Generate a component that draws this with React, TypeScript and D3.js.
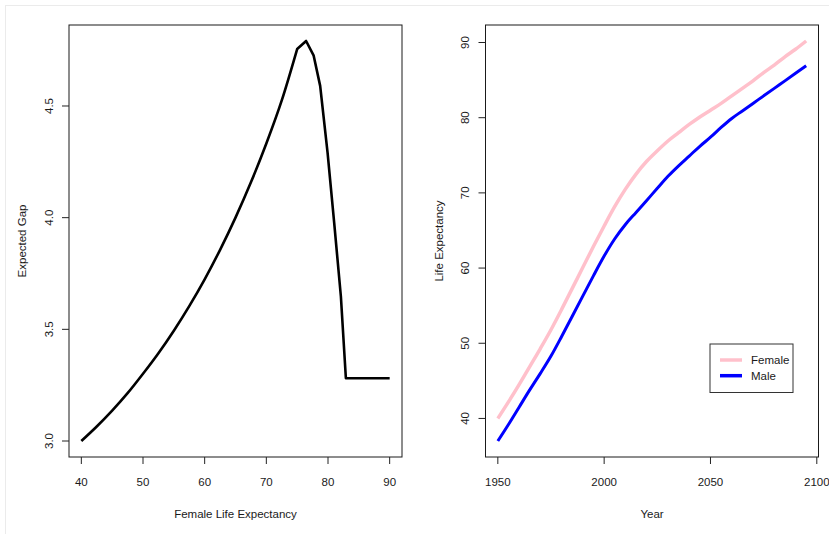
import React from "react";
import * as d3 from "d3";

// left panel: expected gap vs female life expectancy
const gapLE = [40, 42.5, 45, 47.5, 50, 52.5, 55, 57.5, 60, 62.5, 65, 67.5, 70, 72.5, 75, 76.45, 77.66, 78.73, 79.93, 81, 82.09, 82.9, 90];
const gapValue = [3.0, 3.065, 3.136, 3.214, 3.301, 3.393, 3.494, 3.604, 3.724, 3.856, 4.0, 4.158, 4.332, 4.525, 4.755, 4.791, 4.727, 4.59, 4.291, 3.978, 3.647, 3.281, 3.281];
const gapXTicks = [40, 50, 60, 70, 80, 90];
const gapYTicks = [3.0, 3.5, 4.0, 4.5];

// right panel: life expectancy by year
const years = [1950, 1955, 1960, 1965, 1970, 1975, 1980, 1985, 1990, 1995, 2000, 2005, 2010, 2015, 2020, 2025, 2030, 2035, 2040, 2045, 2050, 2055, 2060, 2065, 2070, 2075, 2080, 2085, 2090, 2095];
const female = [40.0, 42.2, 44.5, 46.9, 49.3, 51.8, 54.5, 57.3, 60.1, 62.9, 65.6, 68.2, 70.5, 72.5, 74.2, 75.6, 76.9, 78.0, 79.1, 80.1, 81.0, 81.9, 82.9, 83.9, 84.9, 86.0, 87.0, 88.1, 89.1, 90.2];
const male = [37.0, 39.2, 41.5, 43.8, 46.0, 48.3, 50.9, 53.6, 56.3, 59.0, 61.6, 63.9, 65.8, 67.4, 69.0, 70.6, 72.2, 73.6, 74.9, 76.2, 77.4, 78.7, 79.9, 80.9, 81.9, 82.9, 83.9, 84.9, 85.9, 86.9];
const yearTicks = [1950, 2000, 2050, 2100];
const leTicks = [40, 50, 60, 70, 80, 90];
const legendLabels = ["Female", "Male"];
const legendColors = ["#ffc0cb", "#0000ff"];

const W = 829;
const H = 534;
const FONT = "'Liberation Sans', Arial, sans-serif";
const TXT = "#1a1a1a";

// R style: pad data range by 4% on each side
function padded(vals: number[]): [number, number] {
  const [lo, hi] = d3.extent(vals) as [number, number];
  const p = (hi - lo) * 0.04;
  return [lo - p, hi + p];
}

type PanelProps = {
  left: number;
  right: number;
  top: number;
  bottom: number;
  x: d3.ScaleLinear<number, number>;
  y: d3.ScaleLinear<number, number>;
  xTicks: number[];
  yTicks: number[];
  yFmt: (v: number) => string;
  xTitle: string;
  yTitle: string;
  yTickX: number;
  yTitleX: number;
};

function Frame(p: PanelProps) {
  const { left, right, top, bottom, x, y } = p;
  return (
    <g fontFamily={FONT} fill={TXT}>
      <rect x={left} y={top} width={right - left} height={bottom - top} fill="none" stroke="#1a1a1a" strokeWidth={1} />
      {p.xTicks.map((t) => (
        <g key={"x" + t}>
          <line x1={x(t)} x2={x(t)} y1={bottom} y2={bottom + 7} stroke="#222" />
          <text x={x(t)} y={486} textAnchor="middle" fontSize={11.5}>
            {t}
          </text>
        </g>
      ))}
      {p.yTicks.map((t) => (
        <g key={"y" + t}>
          <line x1={left - 7} x2={left} y1={y(t)} y2={y(t)} stroke="#222" />
          <text
            transform={`translate(${p.yTickX},${y(t)}) rotate(-90)`}
            textAnchor="middle"
            fontSize={11.5}
          >
            {p.yFmt(t)}
          </text>
        </g>
      ))}
      <text x={(left + right) / 2} y={518} textAnchor="middle" fontSize={11.5}>
        {p.xTitle}
      </text>
      <text
        transform={`translate(${p.yTitleX},${(top + bottom) / 2}) rotate(-90)`}
        textAnchor="middle"
        fontSize={11.5}
      >
        {p.yTitle}
      </text>
    </g>
  );
}

export default function App() {
  const top = 25;
  const bottom = 457;

  // left panel
  const L = { left: 69, right: 402 };
  const x1 = d3.scaleLinear().domain(padded(gapLE)).range([L.left, L.right]);
  const y1 = d3.scaleLinear().domain(padded(gapValue)).range([bottom, top]);
  // smooth rising part, straight segments from the peak on
  const split = gapLE.indexOf(75);
  const risePts = gapLE.slice(0, split + 1).map((v, i) => [x1(v), y1(gapValue[i])] as [number, number]);
  const fallPts = gapLE.slice(split).map((v, i) => [x1(v), y1(gapValue[split + i])] as [number, number]);
  const risePath = d3.line().curve(d3.curveMonotoneX)(risePts) ?? "";
  const fallPath = (d3.line()(fallPts) ?? "").replace(/^M/, "L");
  const gapPath = risePath + fallPath;

  // right panel
  const R = { left: 485.5, right: 818.5 };
  const x2 = d3.scaleLinear().domain(padded(years)).range([R.left, R.right]);
  const y2 = d3.scaleLinear().domain(padded([...female, ...male])).range([bottom, top]);
  const leLine = d3
    .line<number>()
    .curve(d3.curveMonotoneX)
    .x((_, i) => x2(years[i]))
    .y((d) => y2(d));

  const legX = 710;
  const legY = 344;

  return (
    <div style={{ position: "absolute", left: 0, top: 0 }}>
      <svg width={W} height={H} style={{ display: "block", background: "#fff" }}>
        <line x1={5} x2={W} y1={5.5} y2={5.5} stroke="#ebebeb" />
        <line x1={5.5} x2={5.5} y1={5} y2={H} stroke="#ebebeb" />

        <Frame
          left={L.left}
          right={L.right}
          top={top}
          bottom={bottom}
          x={x1}
          y={y1}
          xTicks={gapXTicks}
          yTicks={gapYTicks}
          yFmt={(v) => v.toFixed(1)}
          xTitle="Female Life Expectancy"
          yTitle="Expected Gap"
          yTickX={53}
          yTitleX={26}
        />
        <path d={gapPath} fill="none" stroke="#000" strokeWidth={2.6} strokeLinejoin="round" />

        <Frame
          left={R.left}
          right={R.right}
          top={top}
          bottom={bottom}
          x={x2}
          y={y2}
          xTicks={yearTicks}
          yTicks={leTicks}
          yFmt={(v) => String(v)}
          xTitle="Year"
          yTitle="Life Expectancy"
          yTickX={469}
          yTitleX={443}
        />
        <path d={leLine(female) ?? ""} fill="none" stroke={legendColors[0]} strokeWidth={3.5} strokeLinejoin="round" />
        <path d={leLine(male) ?? ""} fill="none" stroke={legendColors[1]} strokeWidth={3} strokeLinejoin="round" />

        <g fontFamily={FONT}>
          <rect x={legX} y={legY} width={83} height={48.5} fill="#fff" stroke="#333" />
          {legendLabels.map((lab, i) => (
            <g key={lab}>
              <line
                x1={legX + 10}
                x2={legX + 32}
                y1={legY + 16 + i * 15.7}
                y2={legY + 16 + i * 15.7}
                stroke={legendColors[i]}
                strokeWidth={3.5}
              />
              <text x={legX + 41} y={legY + 20 + i * 15.7} fontSize={11.5} fill={TXT}>
                {lab}
              </text>
            </g>
          ))}
        </g>
      </svg>
    </div>
  );
}
